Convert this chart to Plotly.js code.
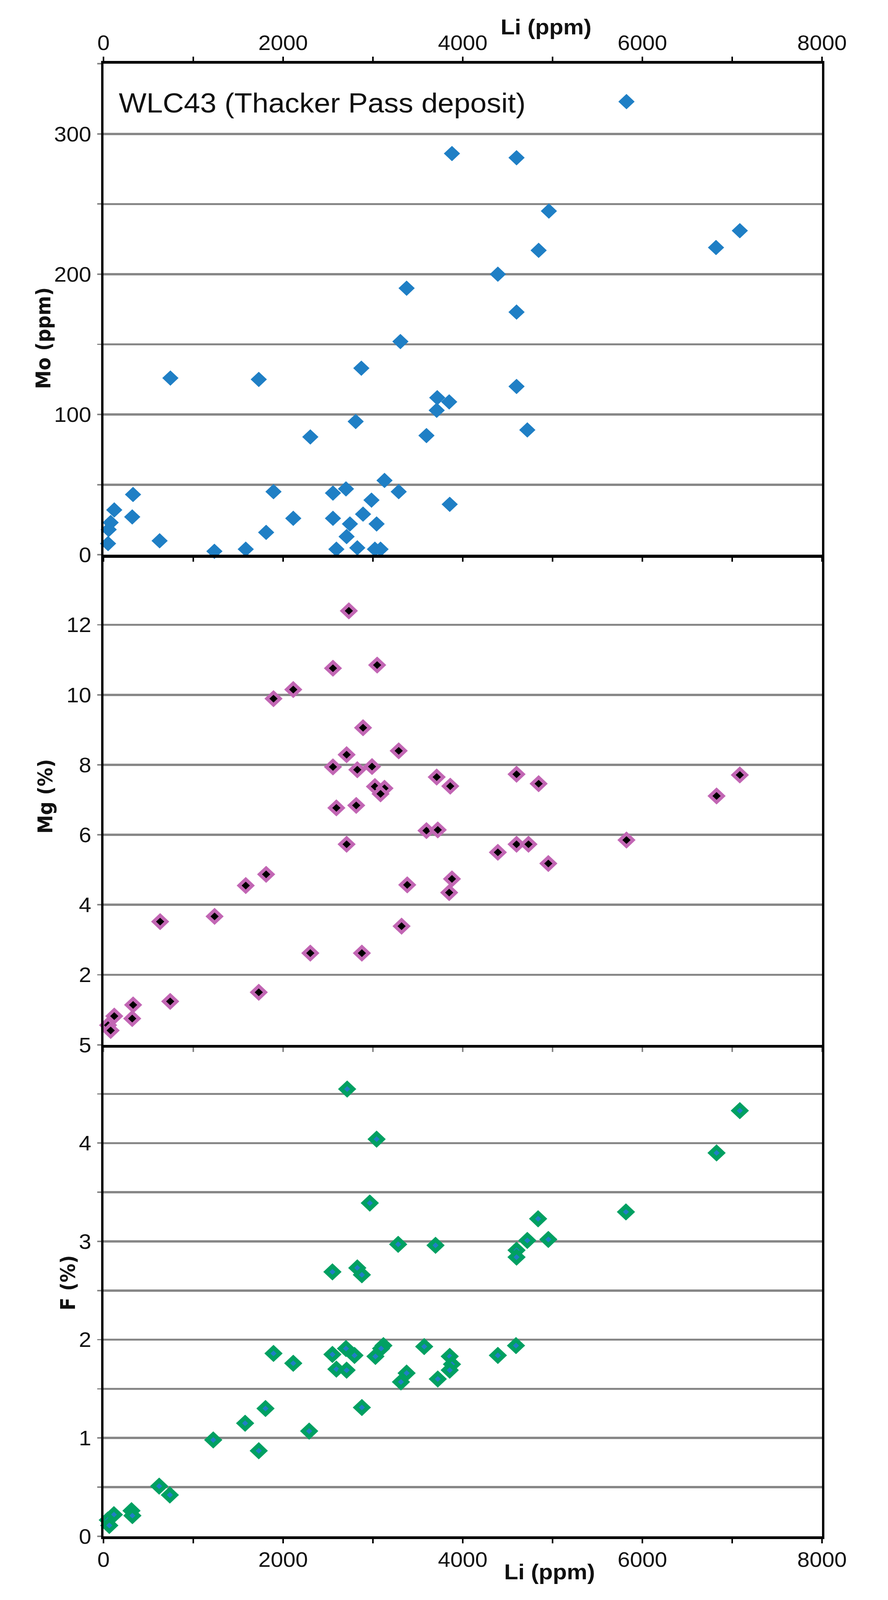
<!DOCTYPE html>
<html>
<head>
<meta charset="utf-8">
<script src="https://cdn.plot.ly/plotly-3.0.1.min.js"></script>
<style>html,body{margin:0;padding:0;background:#fff;overflow:hidden;}#chart{width:2274px;height:4343px;}</style>
</head>
<body>
<div id="chart"></div>
<script>
// ---- data ----
const liMo = [3880,4599,4959,7085,6820,4845,4391,3375,4599,3306,2871,745,1729,4599,3716,3849,3710,2808,4719,2303,3596,3129,2700,2555,3287,1893,329,2984,3855,120,2890,320,2555,2113,80,2744,3041,58,1811,2707,625,51,1235,1584,2593,2826,3022,3085,5823];
const moPpm = [286,283,245,231,219,217,200,190,173,152,133,126,125,120,112,109,103,95,89,84,85,53,47,44,45,45,43,39,36,32,29,27,26,26,23,22,22,18,16,13,10,8,2.5,4,4,5,4,4,323];

const liMg = [2732,2555,3047,2113,1893,2890,3287,2707,2555,2990,2826,3022,3129,3085,3710,3861,4599,4845,6826,7085,2593,2814,3596,3722,2707,4391,4599,4732,5823,4953,1811,1584,3382,3880,3849,1237,631,3319,2303,2877,1729,743,330,320,120,51,80];
const mgPct = [12.40,10.76,10.85,10.15,9.89,9.06,8.40,8.29,7.94,7.95,7.86,7.38,7.33,7.17,7.65,7.39,7.73,7.46,7.11,7.71,6.77,6.84,6.12,6.14,5.73,5.50,5.73,5.73,5.85,5.18,4.87,4.55,4.57,4.74,4.35,3.67,3.52,3.39,2.62,2.62,1.50,1.24,1.14,0.75,0.82,0.56,0.41];

const liF = [2713,7085,3041,6826,2965,5817,4839,3281,3697,4719,4953,4599,4599,2549,2826,2877,4593,3571,3117,3091,2700,1893,2549,2795,3028,4391,3855,2113,3880,2593,2707,3855,3375,3312,3722,1804,2877,1577,2290,1222,1729,620,739,312,322,116,48,65];
const fPct = [4.55,4.33,4.04,3.90,3.39,3.30,3.23,2.97,2.96,3.01,3.02,2.91,2.84,2.69,2.73,2.66,1.94,1.93,1.94,1.91,1.91,1.86,1.85,1.84,1.83,1.84,1.83,1.76,1.75,1.70,1.69,1.69,1.66,1.57,1.60,1.30,1.31,1.15,1.07,0.98,0.87,0.51,0.42,0.26,0.21,0.22,0.165,0.11];

const mgTickVals = [2,4,6,8,10,12];
const mgTickText = ['2','4','6','8','10','12'];
const sampleLabel = 'WLC43 (Thacker Pass deposit)';
const xTitle = 'Li (ppm)';
const moTitle = 'Mo (ppm)';
const mgTitle = 'Mg (%)';
const fTitle = 'F (%)';

// ---- geometry (pixels) ----
const W = 2274, H = 4343;
const L = 265, R = 169, T = 173, B = 173;
const plotW = W - L - R, plotH = H - T - B;
const py = p => (H - B - p) / plotH;   // pixel y -> paper
const px = p => (p - L) / plotW;        // pixel x -> paper
const d1 = py(1506), d2 = py(2836);

const tickFont = {family: 'Liberation Sans, Arial, sans-serif', size: 57, color: '#111'};
const gridCol = '#878787';

const xBase = {
  range: [0, 8000], dtick: 2000, tick0: 0, showgrid: false, zeroline: false,
  showline: true, linecolor: '#000', linewidth: 8,
  ticks: 'outside', ticklen: 11, tickwidth: 4, tickcolor: '#000',
  minor: {dtick: 1000, tick0: 0, ticks: 'outside', ticklen: 11, tickwidth: 4, tickcolor: '#000', showgrid: false},
  tickfont: tickFont, ticklabelstandoff: -4, fixedrange: true
};
const yBase = {
  zeroline: false, showline: true, linecolor: '#000', linewidth: 6, mirror: true,
  showgrid: true, gridcolor: gridCol, gridwidth: 6,
  ticks: 'outside', ticklen: 10, tickwidth: 4, tickcolor: gridCol,
  tickfont: tickFont, ticklabelstandoff: 4, fixedrange: true
};

const traces = [
  {x: liMo, y: moPpm, xaxis: 'x', yaxis: 'y', type: 'scatter', mode: 'markers',
   marker: {symbol: 'diamond', size: 32, color: '#1f7fc5', line: {width: 0}}, cliponaxis: false},
  {x: liMg, y: mgPct, xaxis: 'x2', yaxis: 'y2', type: 'scatter', mode: 'markers',
   marker: {symbol: 'diamond', size: 26, color: '#000', line: {width: 9, color: '#c266b4'}}, cliponaxis: false},
  {x: liF, y: fPct, xaxis: 'x3', yaxis: 'y3', type: 'scatter', mode: 'markers',
   marker: {symbol: 'diamond', size: 24, color: '#1f7fc5', line: {width: 11, color: '#00a062'}}, cliponaxis: false}
];

const layout = {
  width: W, height: H, autosize: false,
  margin: {l: L, r: R, t: T, b: B, pad: 0},
  paper_bgcolor: '#fff', plot_bgcolor: '#fff', showlegend: false,
  xaxis: Object.assign({}, xBase, {anchor: 'y', side: 'top', mirror: 'ticks'}),
  xaxis2: Object.assign({}, xBase, {anchor: 'y2', side: 'bottom', showticklabels: false, matches: 'x',
           tickcolor: gridCol, minor: Object.assign({}, xBase.minor, {tickcolor: gridCol})}),
  xaxis3: Object.assign({}, xBase, {anchor: 'y3', side: 'bottom', matches: 'x'}),
  yaxis: Object.assign({}, yBase, {domain: [d1, 1], range: [0, 350], dtick: 100, tick0: 0,
           minor: {dtick: 50, tick0: 0, showgrid: true, gridcolor: gridCol, gridwidth: 6, ticks: 'outside', ticklen: 10, tickwidth: 4, tickcolor: gridCol}}),
  yaxis2: Object.assign({}, yBase, {domain: [d2, d1], range: [0, 14], tickmode: 'array', tickvals: mgTickVals, ticktext: mgTickText}),
  yaxis3: Object.assign({}, yBase, {domain: [0, d2], range: [0, 5], dtick: 1, tick0: 0,
           minor: {dtick: 0.5, tick0: 0, showgrid: true, gridcolor: gridCol, gridwidth: 6, ticks: 'outside', ticklen: 10, tickwidth: 4, tickcolor: gridCol}}),
  annotations: [
    {text: sampleLabel, xref: 'paper', yref: 'paper', x: px(302), y: py(279), xanchor: 'left', yanchor: 'middle',
     showarrow: false, font: {family: 'Liberation Sans, Arial, sans-serif', size: 75, color: '#111'}},
    {text: '<b>' + xTitle + '</b>', xref: 'paper', yref: 'paper', x: px(1398), y: py(73), xanchor: 'center', yanchor: 'middle',
     showarrow: false, font: {family: 'Liberation Sans, Arial, sans-serif', size: 59, color: '#111'}},
    {text: '<b>' + xTitle + '</b>', xref: 'paper', yref: 'paper', x: px(1407), y: py(4267), xanchor: 'center', yanchor: 'middle',
     showarrow: false, font: {family: 'Liberation Sans, Arial, sans-serif', size: 59, color: '#111'}},
    {text: '<b>' + moTitle + '</b>', xref: 'paper', yref: 'paper', x: px(111), y: py(918), xanchor: 'center', yanchor: 'middle',
     textangle: -90, showarrow: false, font: {family: 'DejaVu Sans, sans-serif', size: 51, color: '#111'}},
    {text: '<b>' + mgTitle + '</b>', xref: 'paper', yref: 'paper', x: px(116), y: py(2162), xanchor: 'center', yanchor: 'middle',
     textangle: -90, showarrow: false, font: {family: 'DejaVu Sans, sans-serif', size: 51, color: '#111'}},
    {text: '<b>' + fTitle + '</b>', xref: 'paper', yref: 'paper', x: px(174), y: py(3482), xanchor: 'center', yanchor: 'middle',
     textangle: -90, showarrow: false, font: {family: 'DejaVu Sans, sans-serif', size: 51, color: '#111'}}
  ]
};

Plotly.newPlot('chart', traces, layout, {displayModeBar: false, staticPlot: true});

// The browser viewport may be shorter than the chart; squeeze vertically so the whole figure is visible.
const vScale = Math.min(1, (window.innerHeight || H) / H);
if (vScale < 1) {
  const el = document.getElementById('chart');
  el.style.transformOrigin = '0 0';
  el.style.transform = 'scale(1,' + vScale + ')';
}
</script>
</body>
</html>
